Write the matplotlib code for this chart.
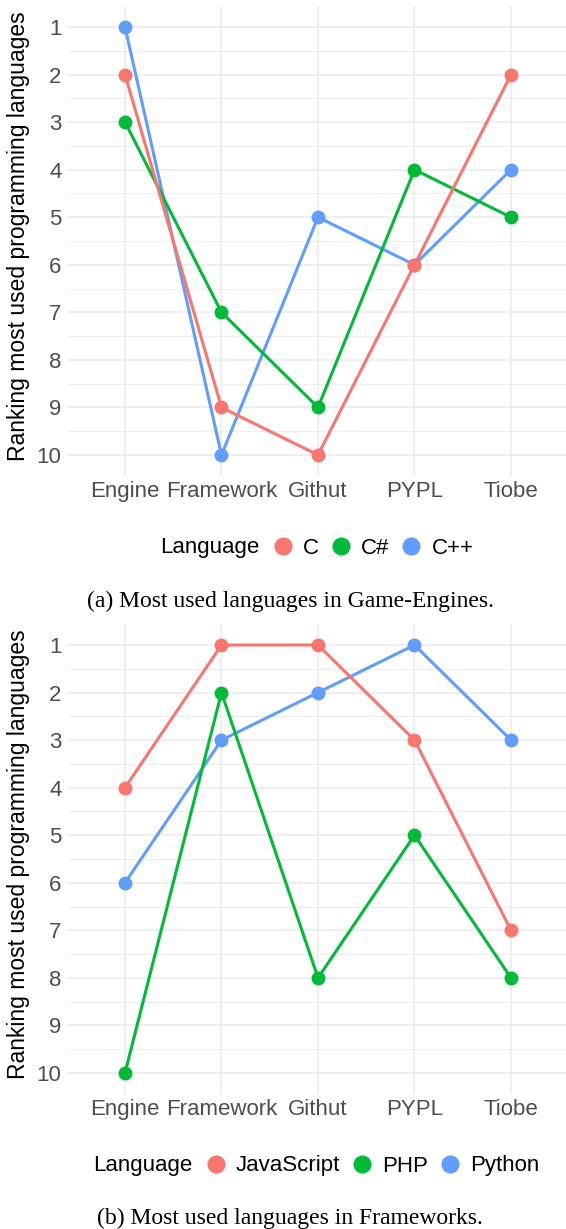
import matplotlib
matplotlib.use("Agg")
import matplotlib.pyplot as plt
from matplotlib.lines import Line2D

# ranking sources on the x axis
sources = ["Engine", "Framework", "Githut", "PYPL", "Tiobe"]

# (a) Game-Engines
engine_langs = ["C", "C#", "C++"]
engine_c = [2, 9, 10, 6, 2]
engine_csharp = [3, 7, 9, 4, 5]
engine_cpp = [1, 10, 5, 6, 4]

# (b) Frameworks
fw_langs = ["JavaScript", "PHP", "Python"]
fw_js = [4, 1, 1, 3, 7]
fw_php = [10, 2, 8, 5, 8]
fw_python = [6, 3, 2, 1, 3]

colors = ["#F8766D", "#00BA38", "#619CFF"]
W, H = 566, 1229

plt.rcParams["font.family"] = ["Liberation Sans", "DejaVu Sans"]


def px(x, y):
    """pixel position -> figure fraction"""
    return x / W, 1 - y / H


def draw_panel(fig, top, langs, series, legend_x, legend_text_x, legend_y, caption, caption_y):
    """draw one ranking panel, top = pixel y of the axes top"""
    ax = fig.add_axes([67 / W, 1 - (top + 470.8) / H, (W - 67) / W, 470.8 / H])
    xs = list(range(len(sources)))
    # drawn in reverse so the first language ends up on top
    for i in reversed(range(len(langs))):
        ax.plot(xs, series[i], color=colors[i], lw=2.2, zorder=3)
    for i in reversed(range(len(langs))):
        ax.plot(xs, series[i], "o", color=colors[i], ms=9, zorder=4)

    ax.set_xlim(-0.601, 4.57)
    ax.set_ylim(10.45, 0.55)
    ax.set_xticks(xs)
    ax.set_xticklabels(sources)
    ax.set_yticks(range(1, 11))
    ax.set_yticks([i + 0.5 for i in range(1, 10)], minor=True)
    ax.tick_params(axis="both", which="both", length=0, labelsize=16, colors="#4D4D4D")
    ax.tick_params(axis="x", pad=3.5)
    ax.tick_params(axis="y", pad=4.0)
    ax.grid(True, which="major", color="#EBEBEB", lw=1.1, zorder=0)
    ax.grid(True, which="minor", axis="y", color="#EBEBEB", lw=0.6, zorder=0)
    for s in ax.spines.values():
        s.set_visible(False)

    fig.text(*px(19, top + 231), "Ranking most used programming languages",
             rotation=90, ha="center", va="center", fontsize=16.5, color="black")

    fig.text(*px(legend_text_x, legend_y), "Language", ha="left", va="center", fontsize=16)
    handles = [Line2D([], [], ls="none", marker="o", ms=12, color=c) for c in colors]
    fig.legend(handles, langs, loc="center left", bbox_to_anchor=px(legend_x, legend_y),
               ncol=3, frameon=False, fontsize=16, handlelength=1.0, handletextpad=0.4,
               columnspacing=0.49, borderpad=0, borderaxespad=0)

    fig.text(*px(290, caption_y), caption, ha="center", va="center", fontsize=17,
             family=["Liberation Serif", "DejaVu Serif"])


fig = plt.figure(figsize=(W / 100, H / 100), dpi=100)

draw_panel(fig, 5.6, engine_langs, [engine_c, engine_csharp, engine_cpp],
           272, 160, 548, "(a) Most used languages in Game-Engines.", 601)
draw_panel(fig, 623.6, fw_langs, [fw_js, fw_php, fw_python],
           205, 93, 1166, "(b) Most used languages in Frameworks.", 1218)

fig.savefig("out.png", dpi=100)
